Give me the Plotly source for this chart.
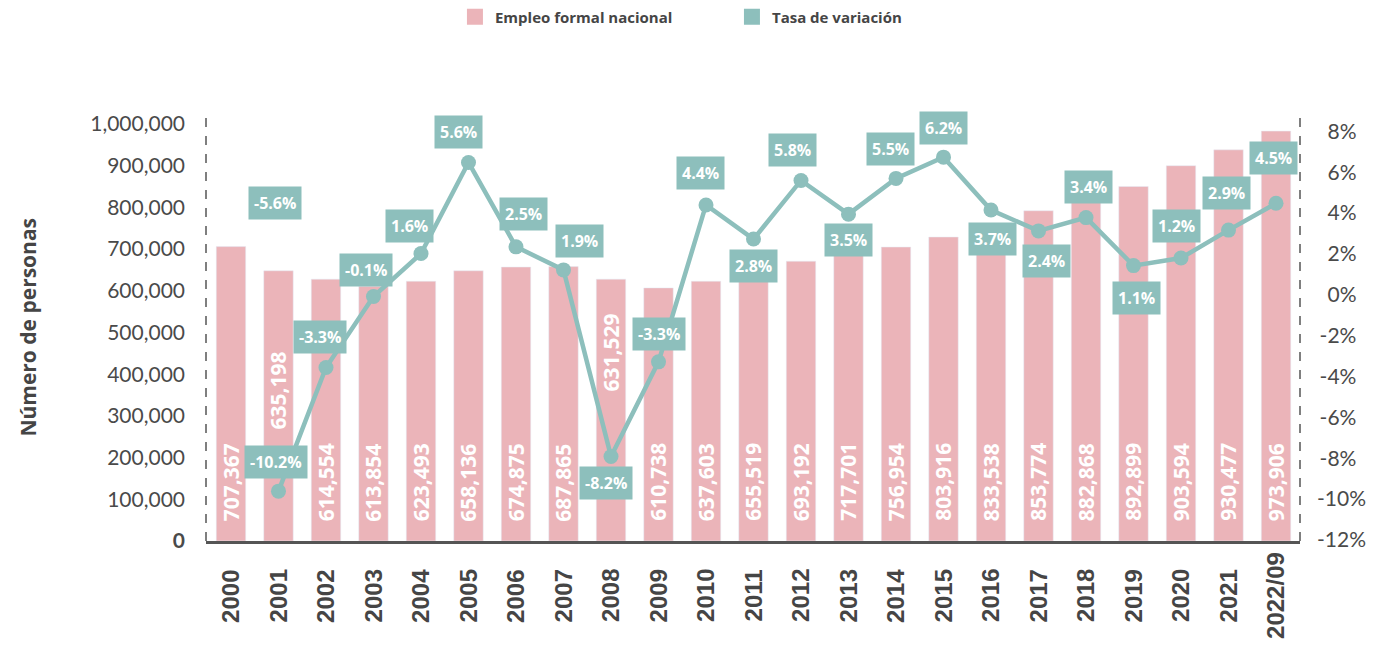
import plotly.graph_objects as go

# ---------------- data ----------------
years = ["2000", "2001", "2002", "2003", "2004", "2005", "2006", "2007", "2008", "2009",
         "2010", "2011", "2012", "2013", "2014", "2015", "2016", "2017", "2018", "2019",
         "2020", "2021", "2022/09"]
# labelled employment values
empleo_labels = [707367, 635198, 614554, 613854, 623493, 658136, 674875, 687865, 631529, 610738,
                 637603, 655519, 693192, 717701, 756954, 803916, 833538, 853774, 882868, 892899,
                 903594, 930477, 973906]
# drawn bar heights
empleo_bar = [706000, 648000, 628000, 611000, 623000, 648000, 657000, 658000, 628000, 607000,
              623000, 633000, 671000, 693000, 705000, 729000, 750000, 792000, 818000, 850000,
              900000, 938000, 983000]
# variation rate: labels and drawn point positions (%)
tasa_labels = [None, -10.2, -3.3, -0.1, 1.6, 5.6, 2.5, 1.9, -8.2, -3.3,
               4.4, 2.8, 5.8, 3.5, 5.5, 6.2, 3.7, 2.4, 3.4, 1.1,
               1.2, 2.9, 4.5]
tasa_points = [None, -9.61, -3.56, -0.08, 2.02, 6.48, 2.35, 1.22, -7.91, -3.28,
               4.40, 2.73, 5.60, 3.95, 5.70, 6.74, 4.15, 3.13, 3.78, 1.43,
               1.80, 3.17, 4.48]
extra_label = "-5.6%"
extra_label_year_idx = 1
extra_label_value = 4.51
left_ticks = [0, 100000, 200000, 300000, 400000, 500000, 600000, 700000, 800000, 900000, 1000000]
right_ticks = [-12, -10, -8, -6, -4, -2, 0, 2, 4, 6, 8]

# ---------------- styling ----------------
PINK = "#EBB4B9"
TEAL = "#8DBFBC"
DARK = "#454545"
n = len(years)
xs = list(range(n))

# label offsets (px) relative to points
label_yshift = [0, 29, 31, 26, 28, 30, 33, 29, -27, 28,
                32, -27, 30, -26, 29, 29, -29, -30, 31, -32,
                32, 37, 45]
label_xshift = [0, -2, -6, -7, -11, -10, 8, 16, -5, 0,
                -6, 0, -9, 0, -6, 0, 1, 8, 2, 3,
                -5, -2, -3]
bar_label_center = [141000] * n
bar_label_center[1] = 362000
bar_label_center[8] = 452000

fig = go.Figure()

fig.add_trace(go.Bar(
    x=xs, y=empleo_bar, marker=dict(color=PINK), width=0.62,
    name="Empleo formal nacional", legendgroup="emp", showlegend=False,
    hoverinfo="skip"))

fig.add_trace(go.Scatter(
    x=xs, y=tasa_points, yaxis="y2", mode="lines+markers",
    line=dict(color=TEAL, width=4.5), marker=dict(color=TEAL, size=15),
    name="Tasa de variación", legendgroup="tasa", showlegend=False,
    connectgaps=False, hoverinfo="skip"))

# legend entries (square swatches)
fig.add_trace(go.Scatter(x=[None], y=[None], mode="markers",
                         marker=dict(symbol="square", size=20, color=PINK),
                         name="Empleo formal nacional", legendgroup="emp"))
fig.add_trace(go.Scatter(x=[None], y=[None], mode="markers", yaxis="y2",
                         marker=dict(symbol="square", size=20, color=TEAL),
                         name="Tasa de variación", legendgroup="tasa"))

annotations = []
# bar value labels
for i in xs:
    annotations.append(dict(
        x=i, y=bar_label_center[i], xref="x", yref="y",
        text=f"<b>{empleo_labels[i]:,}</b>", textangle=-90, showarrow=False,
        xanchor="center", yanchor="middle",
        font=dict(family="Open Sans", size=21, color="white")))
# rate labels
for i in xs:
    if tasa_labels[i] is None:
        continue
    annotations.append(dict(
        x=i, y=tasa_points[i], xref="x", yref="y2",
        yshift=label_yshift[i], xshift=label_xshift[i],
        text=f"<b>{tasa_labels[i]:.1f}%</b>", showarrow=False,
        bgcolor=TEAL, borderpad=5, xanchor="center", yanchor="middle",
        font=dict(family="Open Sans", size=16, color="white")))
annotations.append(dict(
    x=extra_label_year_idx, y=extra_label_value, xref="x", yref="y2", xshift=-3,
    text=f"<b>{extra_label}</b>", showarrow=False, bgcolor=TEAL, borderpad=5,
    xanchor="center", yanchor="middle",
    font=dict(family="Open Sans", size=16, color="white")))
# x category labels (rotated, centred)
for i in xs:
    annotations.append(dict(
        x=i, y=-0.128, xref="x", yref="paper", text=f"<b>{years[i]}</b>",
        textangle=-90, showarrow=False, xanchor="center", yanchor="middle",
        font=dict(family="Liberation Sans", size=24, color=DARK)))
# y-axis title
annotations.append(dict(
    x=-0.163, y=0.499, xref="paper", yref="paper", text="<b>Número de personas</b>",
    textangle=-90, showarrow=False, xanchor="center", yanchor="middle",
    font=dict(family="Open Sans", size=21, color=DARK)))

shapes = [
    dict(type="line", xref="paper", yref="paper", x0=0, x1=0, y0=0, y1=1,
         line=dict(color="#555555", width=1.5, dash="dash")),
    dict(type="line", xref="paper", yref="paper", x0=1, x1=1, y0=0, y1=1,
         line=dict(color="#555555", width=1.5, dash="dash")),
]

left_text = ["<b>0</b>"] + [f"{v:,}" for v in left_ticks[1:]]


def right_label(v):
    # pad shorter labels so that the column reads centred
    if v >= 0:
        return "\u2002" + f"{v}%"
    if v > -10:
        return "\u2009" + f"{v}%"
    return f"{v}%"


right_text = [right_label(v) for v in right_ticks]

# page body adds an 8px offset, so the figure is sized to compensate
fig.update_layout(
    width=1371, height=637, autosize=False,
    margin=dict(l=198, r=79, t=104, b=104, autoexpand=False),
    plot_bgcolor="white", paper_bgcolor="white",
    xaxis=dict(range=[-0.526, 22.505], showticklabels=False, showgrid=False,
               zeroline=False, showline=True, linecolor="#555555", linewidth=2.5,
               ticks=""),
    yaxis=dict(range=[0, 1028800], tickvals=left_ticks, ticktext=left_text,
               showgrid=False, zeroline=False, showline=False, ticks="",
               ticklabelstandoff=20,
               tickfont=dict(family="Lato", size=21, color="#4a4a4a")),
    yaxis2=dict(range=[-12.05, 8.95], overlaying="y", side="right",
                tickvals=right_ticks, ticktext=right_text, showgrid=False,
                zeroline=False, showline=False, ticks="", ticklabelstandoff=16,
                tickfont=dict(family="Lato", size=21, color="#4a4a4a")),
    legend=dict(orientation="h", xref="container", yref="container",
                x=0.326, xanchor="left", y=0.9859, yanchor="middle",
                entrywidth=232, entrywidthmode="pixels", itemsizing="trace",
                font=dict(family="Open Sans", size=15, color=DARK, weight="bold"),
                bgcolor="rgba(0,0,0,0)"),
    annotations=annotations,
    shapes=shapes,
    showlegend=True,
)

fig.write_html("out.html")
